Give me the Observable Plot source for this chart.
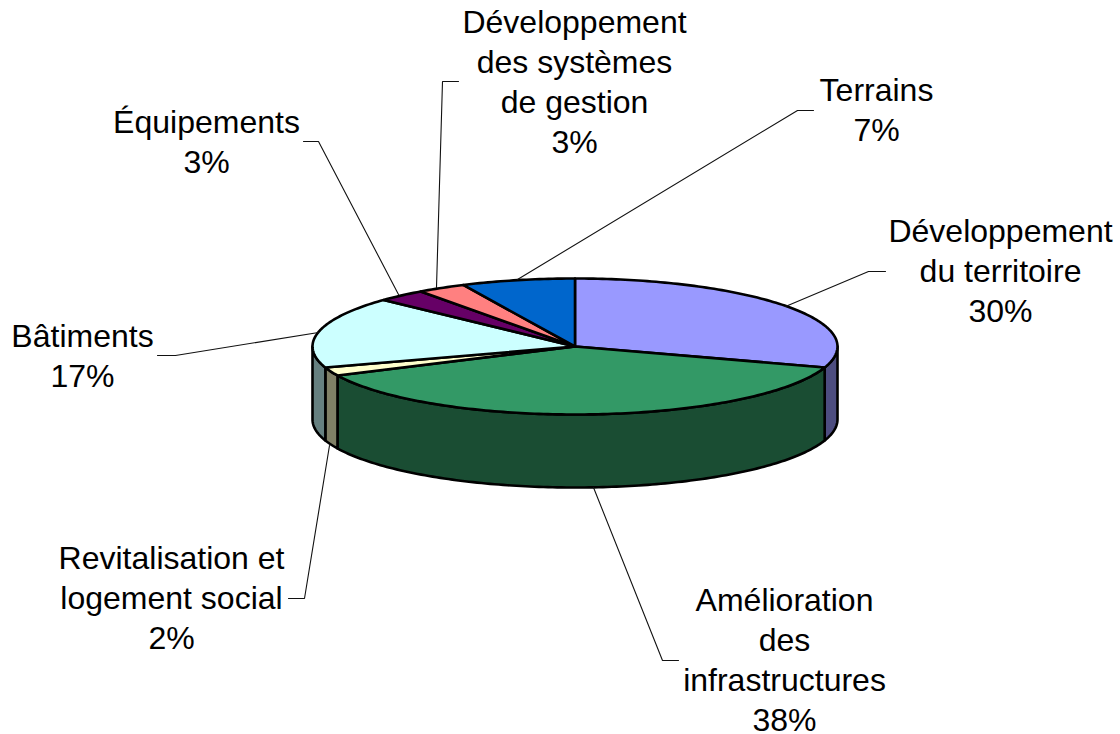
<!DOCTYPE html>
<html><head><meta charset="utf-8">
<script src="https://cdn.jsdelivr.net/npm/d3@7"></script>
<script src="https://cdn.jsdelivr.net/npm/@observablehq/plot@0.6"></script>
<style>html,body{margin:0;padding:0;background:#fff}svg{display:block}</style>
</head><body><div id="chart"></div>
<script>
// Data (clockwise from 12 o'clock)
const categories = ["Développement\ndu territoire", "Amélioration\ndes\ninfrastructures", "Revitalisation et\nlogement social", "Bâtiments", "Équipements", "Développement\ndes systèmes\nde gestion", "Terrains"];
const shares = [30, 38, 2, 17, 3, 3, 7];

// Styles
const topColors = ["#9999FF", "#339966", "#FFFFCC", "#CCFFFF", "#660066", "#FF8080", "#0066CC"];
const sideColors = ["#4D4D80", "#1A4D33", "#808066", "#668080", "#330033", "#804040", "#003366"];

// Layout
const W = 1120, H = 734;
const cx = 574.5, cy = 346, rx = 262.5, ry = 68, depth = 73;
const labelX = [1000, 784, 171, 82, 206, 574, 876];
const labelY = [269, 658, 596, 354, 140, 80, 108];
const leaders = [
  [[785, 306], [868, 271], [885, 271]],
  [[593, 487], [662, 660], [678, 660]],
  [[329, 445], [304, 598], [288, 598]],
  [[318, 332], [175, 355], [157, 355]],
  [[398, 294], [318, 141], [303, 141]],
  [[436, 287], [442, 81], [458, 81]],
  [[517, 279], [797, 110], [813, 110]]
];

const total = d3.sum(shares);
const cum = d3.cumsum(shares);
const slices = shares.map((s, i) => ({
  a0: ((cum[i] - s) / total) * 360,
  a1: (cum[i] / total) * 360
}));
const rad = Math.PI / 180;
const ex = a => cx + rx * Math.sin(a * rad);
const ey = a => cy - ry * Math.cos(a * rad);
const arc = (a0, a1) => {
  const n = Math.max(2, Math.ceil(Math.abs(a1 - a0)));
  return d3.range(n + 1).map(k => a0 + (a1 - a0) * k / n);
};

const marks = [];
// side walls: only the front half of the cylinder shows
slices.forEach((sl, i) => {
  const a0 = Math.max(sl.a0, 90), a1 = Math.min(sl.a1, 270);
  if (a1 <= a0) return;
  const upper = arc(a0, a1).map(a => [ex(a), ey(a)]);
  const lower = arc(a1, a0).map(a => [ex(a), ey(a) + depth]);
  const pts = [...upper, ...lower, upper[0]];
  marks.push(Plot.line(pts, {x: d => d[0], y: d => d[1], fill: sideColors[i], stroke: "#000", strokeWidth: 2.6, strokeLinejoin: "round"}));
});
// top face wedges
slices.forEach((sl, i) => {
  const pts = [[cx, cy], ...arc(sl.a0, sl.a1).map(a => [ex(a), ey(a)]), [cx, cy]];
  marks.push(Plot.line(pts, {x: d => d[0], y: d => d[1], fill: topColors[i], stroke: "#000", strokeWidth: 2.6, strokeLinejoin: "round"}));
});
// leader lines
leaders.forEach(l => marks.push(Plot.line(l, {x: d => d[0], y: d => d[1], stroke: "#111", strokeWidth: 1.1, strokeLinejoin: "miter"})));
// labels
const labels = categories.map((c, i) => ({text: `${c}\n${shares[i]}%`, x: labelX[i], y: labelY[i]}));
marks.push(Plot.text(labels, {
  x: "x", y: "y", text: "text", fill: "#000", textAnchor: "middle", lineAnchor: "middle",
  lineHeight: 1.25, fontSize: 32, fontFamily: "'Liberation Sans', Arial, sans-serif"
}));

document.getElementById("chart").append(Plot.plot({
  width: W, height: H, margin: 0,
  x: {domain: [0, W], range: [0, W], axis: null},
  y: {domain: [0, H], range: [0, H], axis: null},
  marks
}));
</script></body></html>
